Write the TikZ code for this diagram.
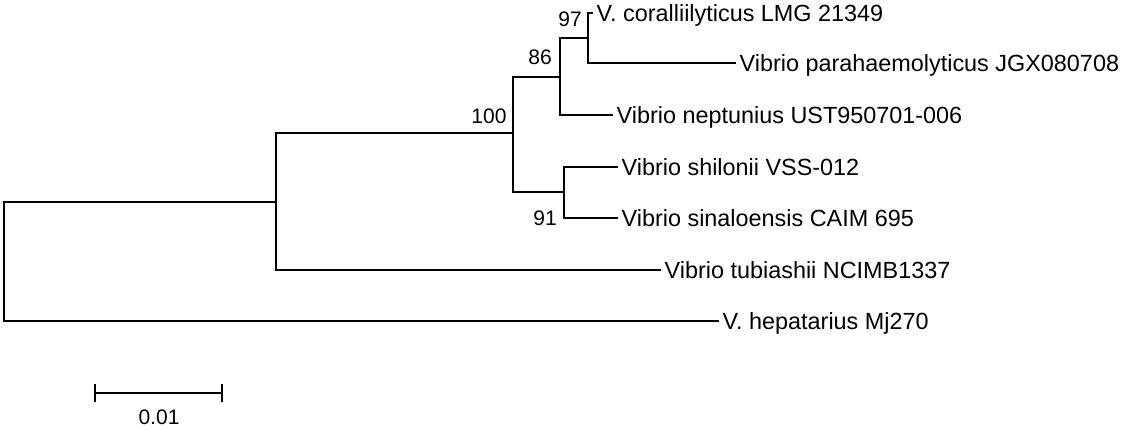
\documentclass[tikz,border=0pt]{standalone}
\usepackage{fontspec}
\setmainfont{Liberation Sans}
\begin{document}
\begin{tikzpicture}[x=1pt,y=-1pt,
  branch/.style={line width=2pt,line join=miter,line cap=rect},
  leaf/.style={anchor=west,inner xsep=4.5pt,inner ysep=0pt,font=\fontsize{23.4}{28}\selectfont,text height=16.8pt,text depth=0pt},
  boot/.style={inner sep=0pt,font=\fontsize{21}{25}\selectfont,text height=15pt,text depth=0pt}]
\useasboundingbox (0,0) rectangle (1125,429);
% internal nodes
\coordinate (root) at (4,202);
\coordinate (A) at (276,202);
\coordinate (B) at (513,133);
\coordinate (C) at (560,77);
\coordinate (E) at (588,38);
\coordinate (D) at (564,192);
% leaves
\node[leaf] (l1) at (592,13) {V. coralliilyticus LMG 21349};
\node[leaf] (l2) at (735,63) {Vibrio parahaemolyticus JGX080708};
\node[leaf] (l3) at (612,115) {Vibrio neptunius UST950701-006};
\node[leaf] (l4) at (617,167) {Vibrio shilonii VSS-012};
\node[leaf] (l5) at (617,218) {Vibrio sinaloensis CAIM 695};
\node[leaf] (l6) at (660,270) {Vibrio tubiashii NCIMB1337};
\node[leaf] (l7) at (718,321) {V. hepatarius Mj270};
% branches
\draw[branch] (l7.west) -| (root) -- (A);
\draw[branch] (l6.west) -| (A) |- (B);
\draw[branch] (C) -| (B) |- (D);
\draw[branch] (E) -| (C) |- (l3.west);
\draw[branch] (l1.west) -| (E) |- (l2.west);
\draw[branch] (l4.west) -| (D) |- (l5.west);
% bootstrap values
\node[boot] (b97) at (570,19) {97};
\node[boot] (b86) at (540,57) {86};
\node[boot] (b100) at (489,116) {100};
\node[boot] (b91) at (545,218) {91};
% scale bar
\coordinate (sbL) at (95,393);
\coordinate (sbR) at (222,393);
\coordinate (sbLt) at (95,384);
\coordinate (sbLb) at (95,402);
\coordinate (sbRt) at (222,384);
\coordinate (sbRb) at (222,402);
\draw[line width=2pt] (sbL) -- (sbR);
\draw[line width=2pt] (sbLt) -- (sbLb);
\draw[line width=2pt] (sbRt) -- (sbRb);
\node[boot] (sblabel) at (159,417) {0.01};
\end{tikzpicture}
\end{document}
